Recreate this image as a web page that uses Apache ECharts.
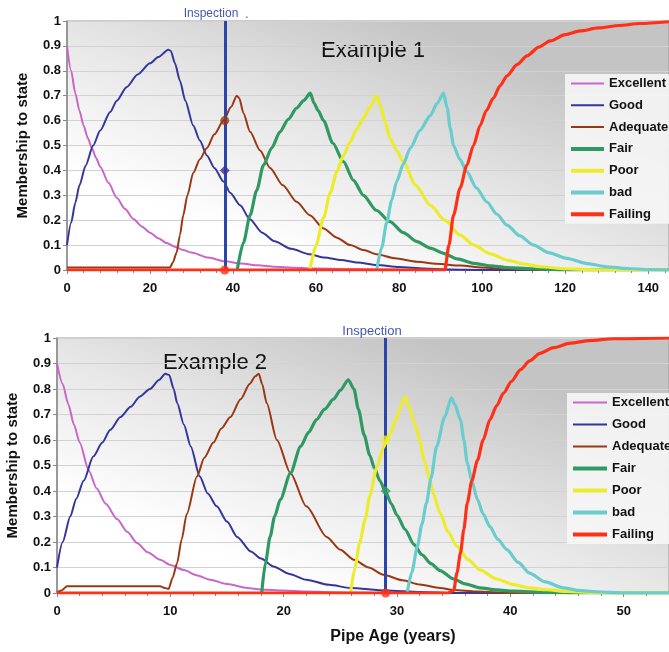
<!DOCTYPE html>
<html>
<head>
<meta charset="utf-8">
<script src="https://cdn.jsdelivr.net/npm/echarts@6/dist/echarts.min.js"></script>
<style>
html,body{margin:0;padding:0;background:#fff;}
#chart{width:669px;height:652px;}
</style>
</head>
<body>
<div id="chart"></div>
<script>
// ---------- DATA ----------
const stateNames = ['Excellent','Good','Adequate','Fair','Poor','bad','Failing'];

// Example 1 : [pipe age (years), membership]
const ex1Excellent = [[0,0.9],[1,0.8],[2,0.71],[3,0.64],[4,0.58],[5,0.53],[6,0.49],[7,0.45],[8,0.415],[10,0.35],[12,0.29],[14,0.245],[16,0.205],[18,0.175],[20,0.15],[22,0.128],[24,0.108],[26,0.093],[28,0.08],[30,0.07],[34,0.05],[38,0.035],[42,0.026],[46,0.019],[50,0.013],[55,0.009],[60,0.006],[70,0.003],[80,0.001],[90,0],[145,0]];
const ex1Good = [[0,0.1],[1,0.19],[2,0.27],[3,0.34],[4.5,0.42],[6.3,0.5],[8,0.56],[10.4,0.635],[12,0.68],[14.4,0.735],[17,0.785],[20,0.83],[22,0.855],[24.4,0.885],[25,0.88],[26,0.83],[27.2,0.76],[28.5,0.68],[30.4,0.58],[32,0.52],[33.7,0.46],[35.5,0.41],[37.7,0.355],[39.3,0.31],[41.7,0.26],[44,0.205],[47,0.15],[50,0.115],[54,0.085],[58.5,0.063],[62,0.05],[66,0.04],[70,0.03],[74.6,0.02],[80,0.012],[86,0.006],[92,0.002],[100,0],[145,0]];
const ex1Adequate = [[0,0.01],[24.8,0.01],[25.5,0.03],[26.4,0.07],[27.2,0.14],[28,0.22],[29,0.3],[30.4,0.39],[32,0.445],[33.7,0.49],[35.5,0.545],[37.7,0.6],[39.5,0.655],[40.9,0.7],[41.5,0.69],[42.5,0.63],[44.1,0.555],[46.5,0.48],[48.9,0.41],[52,0.34],[55.3,0.274],[58.5,0.22],[61.8,0.167],[65,0.13],[68.2,0.1],[71.5,0.08],[74.6,0.063],[79,0.047],[84.3,0.033],[89,0.025],[94.7,0.018],[100,0.01],[106,0.005],[112,0.002],[120,0],[145,0]];
const ex1Fair = [[41,0],[42.5,0.11],[44.1,0.22],[45.7,0.32],[47.3,0.42],[49.3,0.49],[51.3,0.555],[53.3,0.605],[55.3,0.65],[57,0.68],[58.6,0.71],[59.5,0.67],[60.5,0.64],[61.8,0.6],[64,0.51],[66.6,0.435],[69,0.36],[71.4,0.3],[74.5,0.24],[77.8,0.194],[81,0.15],[84.3,0.114],[87.5,0.088],[90.7,0.067],[94,0.045],[97.9,0.027],[102,0.017],[106,0.01],[112,0.005],[120,0],[145,0]];
const ex1Poor = [[58.5,0],[60,0.1],[61.8,0.21],[63.4,0.31],[65,0.395],[66.6,0.46],[68.2,0.515],[69.8,0.565],[71.4,0.61],[73,0.655],[74.6,0.7],[75.5,0.66],[76.5,0.6],[77.8,0.53],[79.4,0.48],[81,0.435],[84,0.34],[87.5,0.26],[91,0.2],[94.7,0.14],[98,0.1],[102,0.065],[106,0.04],[110,0.024],[114,0.013],[120,0.005],[128,0],[145,0]];
const ex1Bad = [[74.6,0],[75.8,0.09],[77,0.19],[78.2,0.28],[79.4,0.355],[81,0.425],[82.7,0.49],[85,0.56],[87.5,0.62],[89.2,0.67],[90.7,0.71],[91.6,0.65],[92.3,0.57],[93.1,0.5],[94.6,0.445],[96.3,0.395],[98.6,0.33],[101.1,0.274],[103.5,0.225],[106,0.18],[109,0.138],[112.4,0.1],[116,0.07],[120.4,0.047],[125,0.027],[130,0.013],[135,0.006],[140,0.002],[145,0]];
const ex1Failing = [[0,0],[91,0],[92,0.1],[93.1,0.22],[94.7,0.33],[96.3,0.42],[97.9,0.5],[99.5,0.58],[101,0.64],[102.7,0.69],[104.3,0.74],[106,0.78],[108.4,0.825],[110.8,0.86],[113.6,0.895],[116.4,0.92],[120,0.945],[123.6,0.96],[128,0.972],[133,0.982],[138,0.99],[145,0.997]];
const ex1Inspection = 38;
const ex1InspectionValues = [0.6, 0.4, 0];
const ex1InspectionStates = ['Adequate','Good','Failing'];

// Example 2
const ex2Excellent = [[0,0.9],[0.5,0.82],[1,0.74],[1.5,0.66],[2,0.59],[2.8,0.48],[3.5,0.41],[4.3,0.35],[5.3,0.29],[6.2,0.24],[7.06,0.196],[8,0.16],[9.1,0.13],[10,0.11],[11.2,0.09],[12.3,0.07],[13.5,0.052],[15,0.035],[16.8,0.02],[18,0.014],[20,0.01],[22,0.006],[24,0.003],[26,0.001],[28,0],[54,0]];
const ex2Good = [[0,0.1],[0.5,0.2],[1.17,0.3],[1.7,0.37],[2.35,0.44],[3.2,0.535],[4,0.59],[4.7,0.64],[5.6,0.69],[6.5,0.73],[7.3,0.77],[8.2,0.8],[9,0.835],[9.55,0.86],[9.9,0.855],[10.3,0.8],[10.6,0.745],[11.2,0.66],[11.8,0.575],[12.6,0.457],[13.3,0.39],[14.1,0.34],[15,0.28],[15.9,0.22],[17.1,0.163],[18,0.135],[19.1,0.104],[20.5,0.075],[22,0.052],[24,0.032],[25.9,0.02],[29,0.01],[32,0.004],[35,0],[54,0]];
const ex2Adequate = [[0,0.003],[0.4,0.01],[0.88,0.026],[9.1,0.026],[9.5,0.02],[9.85,0.016],[10.2,0.06],[10.6,0.118],[11,0.21],[11.45,0.31],[12.35,0.457],[13,0.53],[13.8,0.59],[14.5,0.645],[15.3,0.69],[16.2,0.76],[17,0.82],[17.5,0.85],[17.8,0.86],[18.1,0.82],[18.5,0.745],[19.4,0.6],[20.6,0.47],[22,0.34],[23.8,0.22],[25,0.17],[26.2,0.13],[27.5,0.1],[28.8,0.072],[30.5,0.05],[32,0.033],[33.8,0.02],[35,0.012],[37,0.006],[40,0],[54,0]];
const ex2Fair = [[18.06,0],[18.4,0.12],[18.8,0.22],[19.2,0.3],[19.7,0.366],[20.6,0.47],[21.5,0.575],[22.2,0.63],[22.9,0.68],[23.6,0.72],[24.4,0.76],[25,0.795],[25.7,0.836],[26.2,0.8],[26.6,0.72],[27.1,0.62],[27.6,0.54],[28,0.49],[28.5,0.44],[29,0.395],[29.5,0.35],[30,0.305],[30.7,0.25],[31.5,0.19],[32.2,0.15],[33,0.115],[33.8,0.088],[35,0.055],[36,0.036],[37.3,0.02],[38.8,0.012],[40.3,0.007],[43,0.002],[46,0],[54,0]];
const ex2Poor = [[25.9,0],[26.3,0.1],[26.7,0.196],[27.2,0.29],[27.6,0.38],[28.2,0.49],[28.8,0.57],[29.1,0.6],[29.4,0.625],[30,0.69],[30.4,0.74],[30.7,0.77],[31,0.74],[31.5,0.67],[32,0.6],[32.4,0.52],[32.9,0.444],[33.2,0.39],[33.8,0.314],[34.5,0.24],[35.3,0.183],[36.3,0.13],[37.3,0.091],[38.8,0.055],[40.3,0.033],[41.7,0.02],[43.2,0.013],[45,0.006],[48,0],[54,0]];
const ex2Bad = [[30.9,0],[31.3,0.08],[31.8,0.183],[32.2,0.27],[32.6,0.353],[33,0.45],[33.5,0.575],[34.2,0.69],[34.8,0.765],[35.1,0.74],[35.6,0.68],[35.9,0.6],[36.2,0.51],[36.6,0.44],[37.1,0.366],[37.6,0.31],[38.2,0.26],[38.9,0.21],[39.7,0.17],[40.7,0.12],[41.7,0.078],[43,0.045],[44.7,0.02],[46,0.01],[47.6,0.005],[50,0],[54,0]];
const ex2Failing = [[0,0],[34.5,0],[35,0.01],[35.3,0.08],[35.6,0.157],[35.9,0.25],[36.2,0.353],[36.6,0.44],[37.1,0.52],[37.6,0.6],[38.2,0.68],[38.8,0.735],[39.4,0.784],[40.1,0.83],[40.9,0.876],[41.7,0.91],[42.6,0.94],[43.8,0.962],[45.3,0.98],[47,0.99],[49.1,0.997],[54,1]];
const ex2Inspection = 29;
const ex2InspectionValues = [0.6, 0.4, 0];
const ex2InspectionStates = ['Poor','Fair','Failing'];

// ---------- STYLE ----------
const stateColors = ['#c966c9','#36369a','#9a3814','#2e9a62','#ecec2c','#6acccc','#ff3018'];
const stateWidths = [2,2,2,3.2,3.2,3.2,3.2];
const legendWidths = [2,2,2,4,4,4,4];
const FONT = '"Liberation Sans", Arial, sans-serif';

const ex1Data = [ex1Excellent, ex1Good, ex1Adequate, ex1Fair, ex1Poor, ex1Bad, ex1Failing];
const ex2Data = [ex2Excellent, ex2Good, ex2Adequate, ex2Fair, ex2Poor, ex2Bad, ex2Failing];

const bgGradient = {
  type: 'linear', x: 0.58, y: 0, x2: 0.42, y2: 1,
  colorStops: [{offset: 0, color: '#c4c4c4'}, {offset: 0.5, color: '#e6e6e6'}, {offset: 1, color: '#ffffff'}]
};

function xAxisFor(idx, max, interval) {
  return {
    type: 'value', gridIndex: idx, min: 0, max: max, interval: interval,
    axisLine: {show: true, lineStyle: {color: '#888', width: 1}},
    axisTick: {show: true, length: 4, lineStyle: {color: '#888'}},
    minorTick: {show: true, splitNumber: 5, length: 3, lineStyle: {color: '#888'}},
    splitLine: {show: false},
    axisLabel: {show: true, showMaxLabel: false, margin: 12, color: '#111', fontSize: 13, fontWeight: 'bold', fontFamily: FONT}
  };
}
function yAxisFor(idx, gap, labelMargin) {
  return {
    type: 'value', gridIndex: idx, min: 0, max: 1, interval: 0.1,
    name: 'Membership to state', nameLocation: 'middle', nameGap: gap, nameRotate: 90,
    nameTextStyle: {color: '#111', fontSize: 15, fontWeight: 'bold', fontFamily: FONT},
    axisLine: {show: true, lineStyle: {color: '#888', width: 1.5}},
    axisTick: {show: true, length: 4, lineStyle: {color: '#888'}},
    splitLine: {show: true, lineStyle: {color: '#d2d2d2', width: 1}},
    axisLabel: {margin: labelMargin, color: '#111', fontSize: 13, fontWeight: 'bold', fontFamily: FONT,
      formatter: v => String(Math.round(v * 10) / 10)}
  };
}

const series = [];
[ex1Data, ex2Data].forEach((set, k) => {
  set.forEach((d, i) => {
    series.push({
      type: 'line', name: stateNames[i], xAxisIndex: k, yAxisIndex: k,
      data: d, symbol: 'none', showSymbol: false, smooth: 0.25, smoothMonotone: 'x',
      lineStyle: {color: stateColors[i], width: stateWidths[i]},
      itemStyle: {color: stateColors[i]},
      emphasis: {disabled: true}, z: 2 + i, animation: false
    });
  });
});

function inspectionLine(k, age) {
  return {
    type: 'line', name: 'inspectionLine' + k, xAxisIndex: k, yAxisIndex: k,
    data: [], z: 15, animation: false,
    markLine: {
      silent: true, symbol: ['none', 'none'], animation: false,
      lineStyle: {color: '#2b46a8', width: 3, type: 'solid'},
      label: {show: false},
      data: [[{coord: [age, 0]}, {coord: [age, 1]}]]
    }
  };
}
function inspectionPoints(k, age, values, states) {
  return {
    type: 'scatter', name: 'inspection' + k, xAxisIndex: k, yAxisIndex: k,
    data: values.map((v, j) => {
      const ci = stateNames.indexOf(states[j]);
      return {value: [age, v], symbol: j === 1 ? 'diamond' : 'circle', symbolSize: j === 1 ? 10 : 9,
        itemStyle: {color: stateColors[ci]}};
    }),
    z: 25, animation: false
  };
}
series.push(inspectionLine(0, ex1Inspection));
series.push(inspectionLine(1, ex2Inspection));
series.push(inspectionPoints(0, ex1Inspection, ex1InspectionValues, ex1InspectionStates));
series.push(inspectionPoints(1, ex2Inspection, ex2InspectionValues, ex2InspectionStates));

function legendFor(left, top, gap, w) {
  return {
    show: true, orient: 'vertical', left: left, top: top,
    data: stateNames.map((n, i) => ({name: n, lineStyle: {width: legendWidths[i]}})),
    itemWidth: w, itemHeight: 14, itemGap: gap,
    padding: [3, 12, 3, 4],
    backgroundColor: 'rgba(247,247,247,0.88)',
    itemStyle: {opacity: 0, borderWidth: 0},
    textStyle: {color: '#111', fontSize: 13, fontWeight: 'bold', fontFamily: FONT},
    selectedMode: false
  };
}

const chart = echarts.init(document.getElementById('chart'), null, {renderer: 'canvas'});
chart.setOption({
  animation: false,
  backgroundColor: '#ffffff',
  grid: [
    {left: 67, top: 21, right: 0, height: 249, show: true, backgroundColor: bgGradient, borderColor: '#999', borderWidth: 1, containLabel: false, outerBoundsMode: 'none'},
    {left: 57, top: 338, right: 0, height: 255, show: true, backgroundColor: bgGradient, borderColor: '#999', borderWidth: 1, containLabel: false, outerBoundsMode: 'none'}
  ],
  xAxis: [xAxisFor(0, 145, 20), xAxisFor(1, 54, 10)],
  yAxis: [yAxisFor(0, 37, 6), yAxisFor(1, 37, 6)],
  legend: [legendFor(565, 74, 8.8, 33), legendFor(567, 393, 9, 34)],
  series: series,
  graphic: [
    {type: 'text', x: 373, y: 51, style: {text: 'Example 1', fill: '#111', font: '22px ' + FONT, align: 'center', verticalAlign: 'middle'}},
    {type: 'text', x: 215, y: 363, style: {text: 'Example 2', fill: '#111', font: '22px ' + FONT, align: 'center', verticalAlign: 'middle'}},
    {type: 'text', x: 211, y: 14, style: {text: 'Inspection', fill: '#4656b0', font: '12px ' + FONT, align: 'center', verticalAlign: 'middle'}},
    {type: 'text', x: 247, y: 15, style: {text: '.', fill: '#4656b0', font: '12px ' + FONT, align: 'center', verticalAlign: 'middle'}},
    {type: 'text', x: 372, y: 331, style: {text: 'Inspection', fill: '#4656b0', font: '13px ' + FONT, align: 'center', verticalAlign: 'middle'}},
    {type: 'text', x: 393, y: 637, style: {text: 'Pipe Age (years)', fill: '#111', font: 'bold 16px ' + FONT, align: 'center', verticalAlign: 'middle'}}
  ]
});
</script>
</body>
</html>
